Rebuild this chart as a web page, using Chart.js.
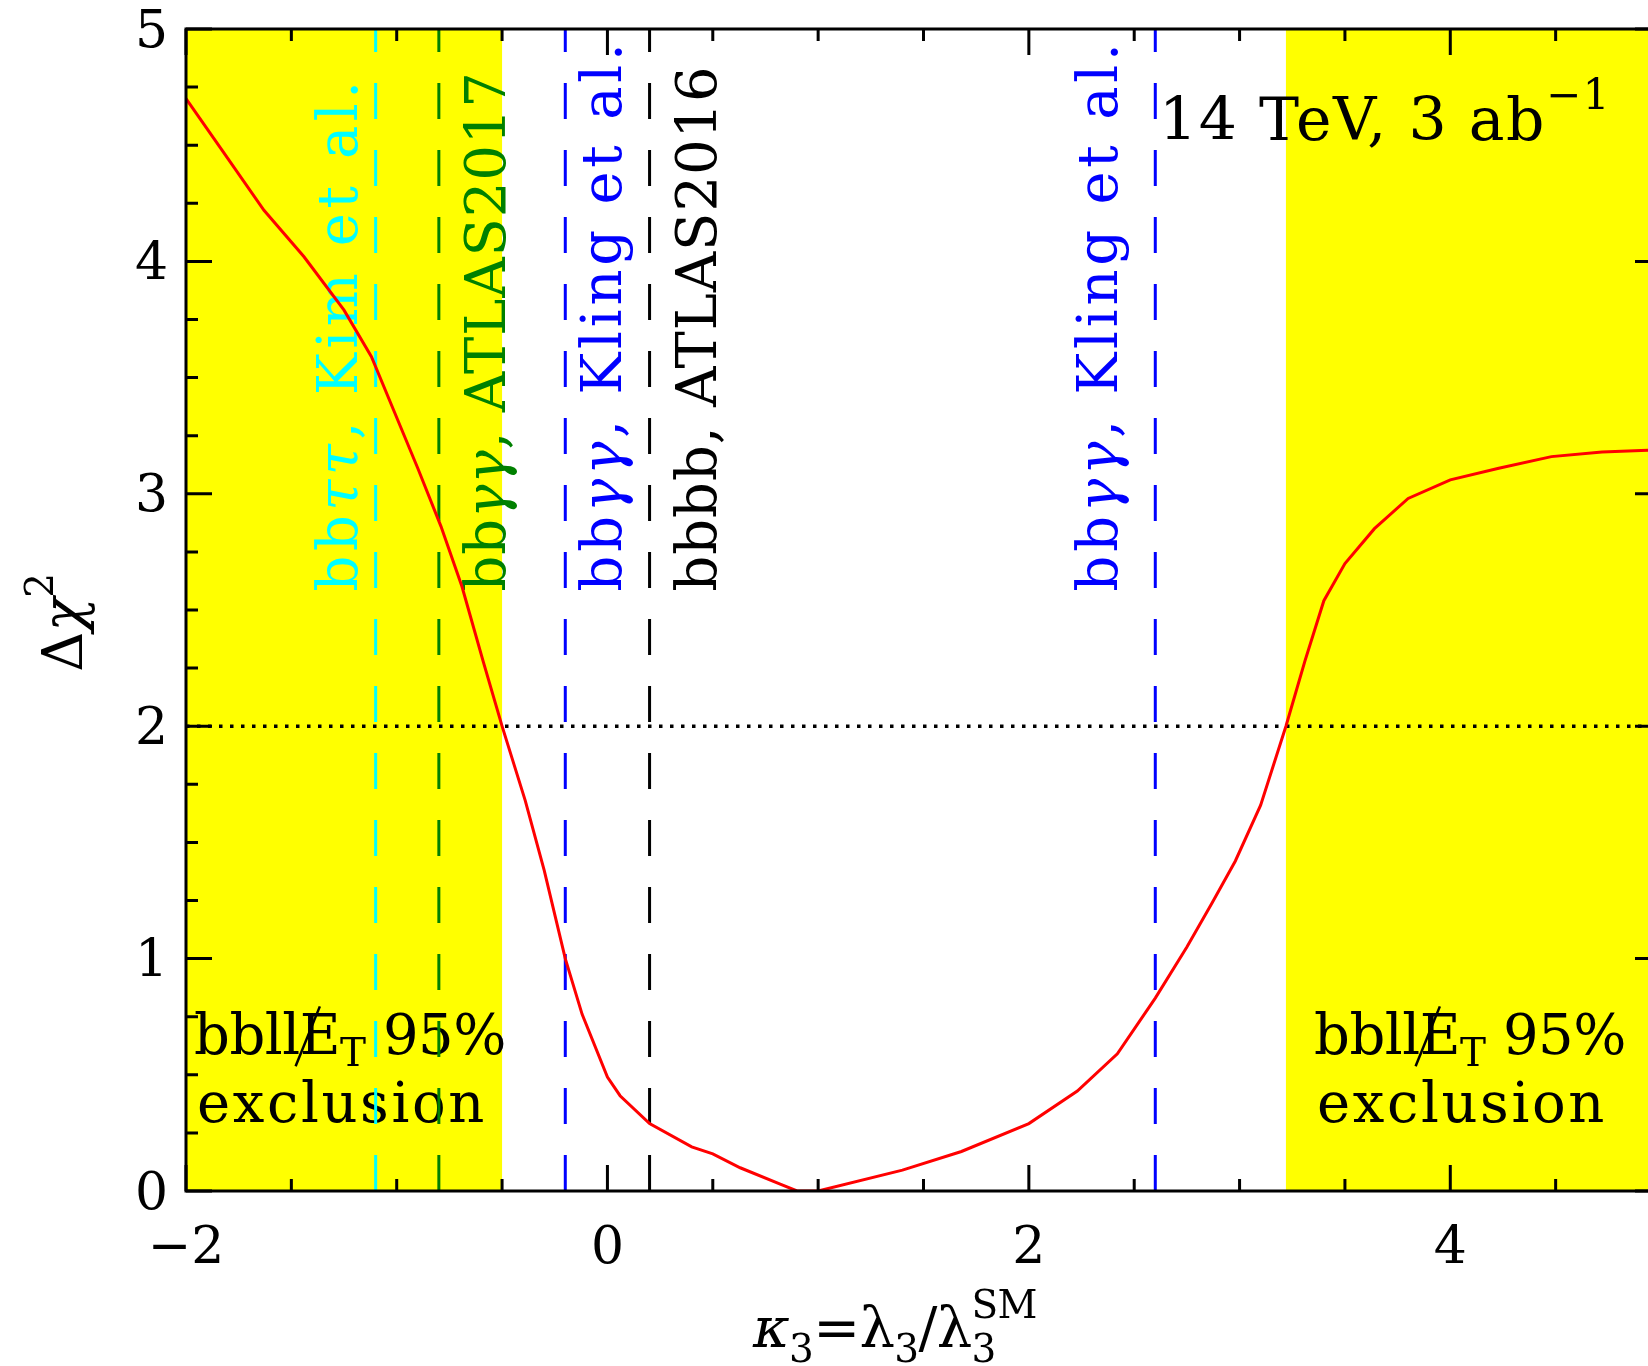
<!DOCTYPE html>
<html>
<head>
<meta charset="utf-8">
<script src="https://cdn.jsdelivr.net/npm/chart.js@4.4.1/dist/chart.umd.min.js"></script>
<style>
  html, body { margin: 0; padding: 0; background: #fff; overflow: hidden; }
  #wrap { width: 1661px; height: 1366px; }
</style>
</head>
<body>
<div id="wrap"><canvas id="chart"></canvas></div>
<script>
'use strict';

// delta chi^2 vs kappa_3 (14 TeV, 3 ab^-1)
var kappa = [-2.00, -1.83, -1.63, -1.44, -1.25, -1.12, -1.01, -0.90, -0.79, -0.69,
             -0.59, -0.50, -0.39, -0.30, -0.20, -0.12,  0.00,  0.06,  0.20,  0.40,
              0.50,  0.63,  0.82,  0.90,  1.00,  1.40,  1.68,  2.00,  2.23,  2.42,
              2.60,  2.75,  2.87,  2.98,  3.10,  3.22,  3.31,  3.40,  3.50,  3.64,
              3.80,  4.00,  4.23,  4.48,  4.72,  5.00];
var dchi2 = [ 4.70,  4.48,  4.22,  4.02,  3.79,  3.59,  3.35,  3.11,  2.86,  2.60,
              2.28,  2.00,  1.68,  1.38,  1.00,  0.76,  0.49,  0.41,  0.29,  0.19,
              0.16,  0.10,  0.03,  0.00,  0.00,  0.09,  0.17,  0.29,  0.43,  0.59,
              0.83,  1.05,  1.24,  1.42,  1.66,  2.00,  2.28,  2.54,  2.70,  2.85,
              2.98,  3.06,  3.11,  3.16,  3.18,  3.19];

// bbllET 95% exclusion bands
var exclFrom = [-2.0, 3.22];
var exclTo   = [-0.5, 5.0];

// limits from other channels
var limitX     = [-1.1, -0.8, -0.2, 0.2, 2.6];
var limitColor = ['#00ffff', '#008000', '#0000ff', '#000000', '#0000ff'];

var xTicks = [-2, 0, 2, 4];
var yTicks = [0, 1, 2, 3, 4, 5];
var cut = 2;

var SERIF = '"DejaVu Serif"';

// rotated labels next to the dashed lines
var limitLabels = [
  { runs: [{t: 'bb'}, {t: 'ττ', i: 1}, {t: ', Kim et al.'}],   x: -1.19, len: 515 },
  { runs: [{t: 'bb'}, {t: 'γγ', i: 1}, {t: ', ATLAS2017'}],    x: -0.485, len: 520 },
  { runs: [{t: 'bb'}, {t: 'γγ', i: 1}, {t: ', Kling et al.'}], x: 0.066, len: 552 },
  { runs: [{t: 'bbbb, ATLAS2016'}],                            x: 0.513, len: 526 },
  { runs: [{t: 'bb'}, {t: 'γγ', i: 1}, {t: ', Kling et al.'}], x: 2.418, len: 552 }
];

function fontFor(r, size) {
  var s = (r.sub || r.sup) ? size * 0.7 : size;
  return (r.i ? 'italic ' : '') + Math.round(s) + 'px ' + SERIF;
}

// draws a list of text runs, stretched to width if given
function drawRuns(ctx, runs, x, y, size, width) {
  ctx.letterSpacing = '0px';
  var w = 0, n = 0;
  runs.forEach(function(r) {
    ctx.font = fontFor(r, size);
    w += ctx.measureText(r.t).width;
    n += r.t.length;
  });
  var ls = width ? (width - w) / n : 0;
  ctx.letterSpacing = ls + 'px';
  var cx = x;
  runs.forEach(function(r) {
    ctx.font = fontFor(r, size);
    var dy = r.sub ? size * r.sub : (r.sup ? -size * 0.52 : 0);
    ctx.fillText(r.t, cx, y + dy);
    var rw = ctx.measureText(r.t).width;
    if (r.slash) {
      ctx.save();
      ctx.lineWidth = 2.5;
      ctx.strokeStyle = ctx.fillStyle;
      ctx.beginPath();
      ctx.moveTo(cx - rw * 0.1, y + size * 0.22);
      ctx.lineTo(cx + rw * 0.5, y - size * 0.85);
      ctx.stroke();
      ctx.restore();
    }
    if (!r.keep) cx += rw;
  });
  ctx.letterSpacing = '0px';
}

var decor = {
  id: 'decor',
  beforeDatasetsDraw: function(chart) {
    var ctx = chart.ctx, a = chart.chartArea;
    var xs = chart.scales.x, ys = chart.scales.y;
    ctx.save();
    ctx.fillStyle = '#ffff00';
    for (var i = 0; i < exclFrom.length; i++) {
      var x0 = xs.getPixelForValue(exclFrom[i]);
      var x1 = xs.getPixelForValue(exclTo[i]);
      ctx.fillRect(x0, a.top, x1 - x0, a.bottom - a.top);
    }
    ctx.textBaseline = 'alphabetic';
    ctx.textAlign = 'left';
    limitLabels.forEach(function(l, k) {
      ctx.save();
      ctx.translate(xs.getPixelForValue(l.x), ys.getPixelForValue(2.58));
      ctx.rotate(-Math.PI / 2);
      ctx.fillStyle = limitColor[k];
      drawRuns(ctx, l.runs, 0, 0, 56, l.len);
      ctx.restore();
    });

    ctx.fillStyle = '#000';
    var excl = [{t: 'bbll'}, {t: 'E', slash: 1}, {t: 'T', sub: 0.22}, {t: ' 95%'}];
    var lx = [194, 1314];
    lx.forEach(function(x) {
      drawRuns(ctx, excl, x, 1054, 56, 312);
      drawRuns(ctx, [{t: 'exclusion'}], x + 3, 1122, 56, 290);
    });

    drawRuns(ctx, [{t: '14 TeV, 3 ab'}, {t: '−1', sup: 1}], 1159, 140, 60, 452);
    ctx.restore();
  },
  afterDatasetsDraw: function(chart) {
    var ctx = chart.ctx, a = chart.chartArea;
    var xs = chart.scales.x, ys = chart.scales.y;
    ctx.save();
    ctx.strokeStyle = '#000';
    ctx.lineWidth = 3;
    ctx.beginPath();
    var v, p, len;
    for (v = -2; v <= 5.001; v += 0.5) {
      p = xs.getPixelForValue(v);
      len = (Math.abs(v % 2) < 1e-6) ? 26 : 12;
      ctx.moveTo(p, a.bottom); ctx.lineTo(p, a.bottom - len);
      ctx.moveTo(p, a.top); ctx.lineTo(p, a.top + len);
    }
    for (v = 0; v <= 5.001; v += 0.25) {
      p = ys.getPixelForValue(v);
      len = (Math.abs(v - Math.round(v)) < 1e-6) ? 26 : 12;
      ctx.moveTo(a.left, p); ctx.lineTo(a.left + len, p);
      ctx.moveTo(a.right, p); ctx.lineTo(a.right - len, p);
    }
    ctx.stroke();
    ctx.strokeRect(a.left, a.top, a.right - a.left, a.bottom - a.top);

    // axis titles
    ctx.fillStyle = '#000';
    ctx.textBaseline = 'alphabetic';
    ctx.textAlign = 'left';
    ctx.save();
    ctx.translate(82, 672);
    ctx.rotate(-Math.PI / 2);
    drawRuns(ctx, [{t: 'Δ'}, {t: 'χ', i: 1}, {t: '2', sup: 1}], 0, 0, 56, 0);
    ctx.restore();

    drawRuns(ctx, [{t: 'κ', i: 1}, {t: '3', sub: 0.27}, {t: '=λ'}, {t: '3', sub: 0.27}, {t: '/λ'},
                   {t: 'SM', sup: 1, keep: 1}, {t: '3', sub: 0.27}], 753, 1347, 56, 308);
    ctx.restore();
  }
};

var curve = kappa.map(function(k, i) { return {x: k, y: dchi2[i]}; });

var datasets = [{
  data: curve,
  borderColor: '#ff0000',
  borderWidth: 3,
  pointRadius: 0,
  tension: 0,
  order: 0
}, {
  data: [{x: -2, y: cut}, {x: 5, y: cut}],
  borderColor: '#000',
  borderWidth: 3.5,
  borderDash: [3.5, 7.5],
  pointRadius: 0,
  order: 1
}];
limitX.forEach(function(v, k) {
  datasets.push({
    data: [{x: v, y: 0}, {x: v, y: 5}],
    borderColor: limitColor[k],
    borderWidth: 3,
    borderDash: [36, 31],
    pointRadius: 0,
    order: 2
  });
});

var tickFont = { family: SERIF, size: 52 };

new Chart(document.getElementById('chart'), {
  type: 'line',
  data: { datasets: datasets },
  plugins: [decor],
  options: {
    responsive: true,
    maintainAspectRatio: false,
    animation: false,
    layout: { padding: { top: 29, right: 0, left: 0, bottom: 0 } },
    plugins: { legend: { display: false }, tooltip: { enabled: false } },
    scales: {
      x: {
        type: 'linear', min: -2, max: 5,
        grid: { display: false, drawTicks: false },
        border: { display: false },
        afterBuildTicks: function(s) { s.ticks = xTicks.map(function(v) { return {value: v}; }); },
        afterFit: function(s) { s.height = 175; s.paddingLeft = 0; s.paddingRight = 0; },
        ticks: {
          color: '#000', font: tickFont, padding: 27, maxRotation: 0,
          callback: function(v) { return v < 0 ? '−' + Math.abs(v) : String(v); }
        }
      },
      y: {
        type: 'linear', min: 0, max: 5,
        grid: { display: false, drawTicks: false },
        border: { display: false },
        afterBuildTicks: function(s) { s.ticks = yTicks.map(function(v) { return {value: v}; }); },
        afterFit: function(s) { s.width = 186; s.paddingTop = 0; s.paddingBottom = 0; },
        ticks: { color: '#000', font: tickFont, padding: 18, labelOffset: 4 }
      }
    }
  }
});
</script>
</body>
</html>
